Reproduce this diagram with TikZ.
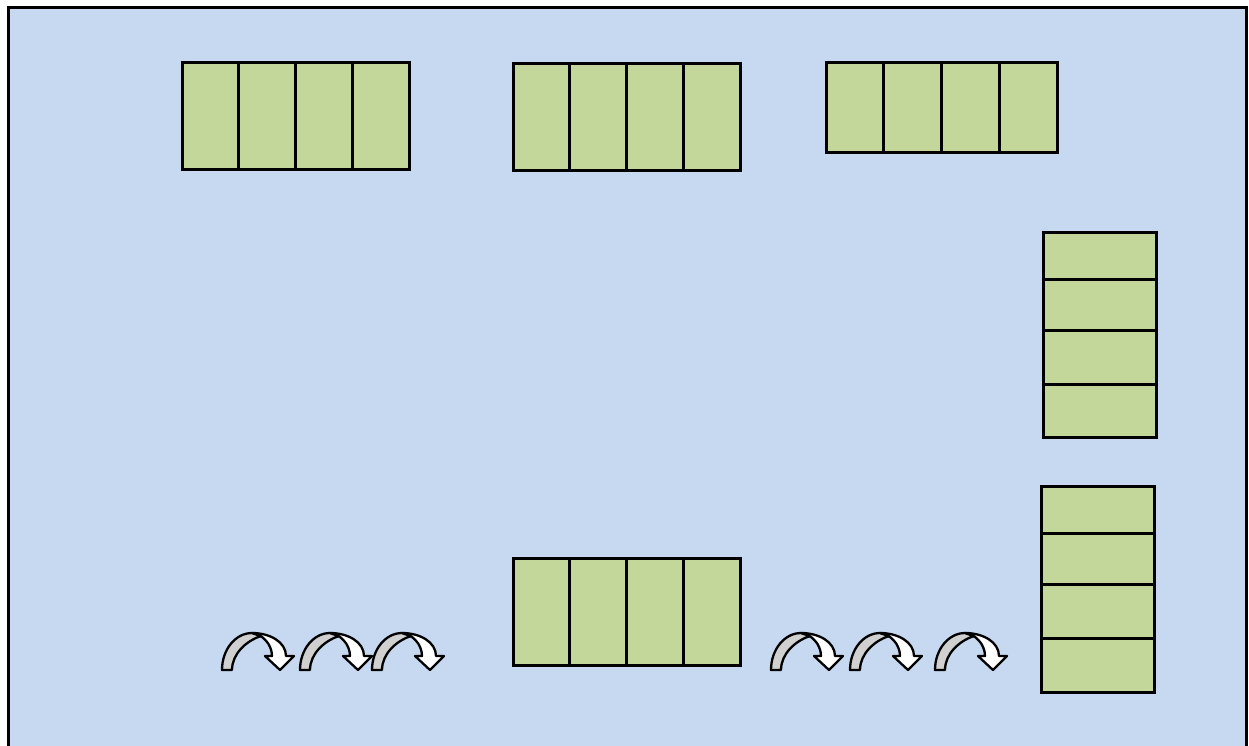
\documentclass[tikz,border=0pt]{standalone}
\definecolor{bgblue}{HTML}{C6D9F1}
\definecolor{cellgreen}{HTML}{C4D79B}
\definecolor{arrgray}{HTML}{D0D0D0}
\newcommand{\cellbox}[5]{%
  \pgfmathsetmacro\cw{#4-#2}\pgfmathsetmacro\ch{#5-#3}%
  \node[cell, minimum width=\cw pt, minimum height=\ch pt] (#1) at ({(#2+#4)/2},{(#3+#5)/2}) {};}
\begin{document}
\begin{tikzpicture}[x=1pt,y=-1pt,
  cell/.style={draw=black, line width=3pt, fill=cellgreen, inner sep=0pt, outer sep=0pt},
  arrline/.style={draw=black, line width=2.3pt, line join=round},
  curvarrow/.pic={
    \path[arrline, fill=arrgray]
      (0,0) .. controls (0,-20.4) and (13.4,-37) .. (30,-37)
      -- (38.7,-33.9) .. controls (24,-29) and (10,-16) .. (10,0) -- cycle;
    \path[arrline, fill=white]
      (30,-37) .. controls (48,-37) and (64,-28) .. (64,-14)
      -- (72,-14) -- (58,0) -- (43,-14) -- (50,-14)
      .. controls (50,-26) and (40,-36) .. (30,-37) -- cycle;
  }]
\useasboundingbox (0,0) rectangle (1249,745);
\clip (0,0) rectangle (1249,745);
\fill[white] (0,0) rectangle (1249,745);
\path[fill=bgblue, draw=black, line width=3pt] (8,7) rectangle (1246,790);
% horizontal boxes
\foreach \nm/\xa/\ya/\xb/\yb in {A/182/62/409/169, B/513/63/740/170, C/826/62/1057/152, F/513/558/740/665}{
  \foreach \i in {0,1,2,3}{
    \pgfmathsetmacro\xl{\xa+\i*(\xb-\xa)/4}
    \pgfmathsetmacro\xr{\xa+(\i+1)*(\xb-\xa)/4}
    \cellbox{\nm\i}{\xl}{\ya}{\xr}{\yb}
  }
}
% vertical boxes
\cellbox{D0}{1043}{232}{1156}{279}
\cellbox{D1}{1043}{279}{1156}{330}
\cellbox{D2}{1043}{330}{1156}{384}
\cellbox{D3}{1043}{384}{1156}{437}
\cellbox{E0}{1041}{486}{1154}{533}
\cellbox{E1}{1041}{533}{1154}{584}
\cellbox{E2}{1041}{584}{1154}{638}
\cellbox{E3}{1041}{638}{1154}{692}
% curved arrows
\pic (a1) at (222,670) {curvarrow};
\pic (a2) at (300,670) {curvarrow};
\pic (a3) at (372,670) {curvarrow};
\pic (a4) at (771,670) {curvarrow};
\pic (a5) at (850,670) {curvarrow};
\pic (a6) at (935,670) {curvarrow};
\end{tikzpicture}
\end{document}
